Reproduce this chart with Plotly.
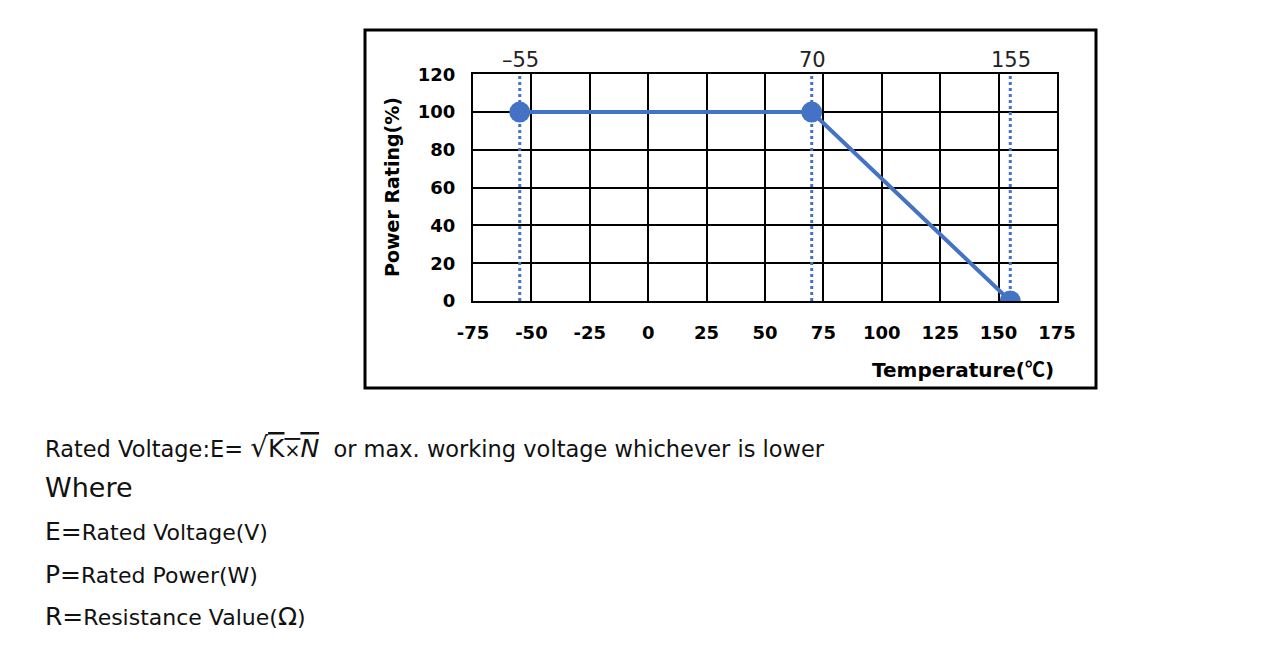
import plotly.graph_objects as go

# derating curve
temps = [-55, 70, 155]
power = [100, 100, 0]
mark_labels = ["\u201355", "70", "155"]

x_range = [-75, 175]
y_range = [0, 120]
x_ticks = [-75, -50, -25, 0, 25, 50, 75, 100, 125, 150, 175]
x_tick_labels = ["-75", "-50", "-25", "0", "25", "50", "75", "100", "125", "150", "175"]
y_ticks = [0, 20, 40, 60, 80, 100, 120]

notes = [
    ("Rated Voltage:E= <span style='font-size:28px'>\u221a</span><span style='text-decoration:overline;font-size:25px'>K<span style='font-size:19px'>\u00d7</span><i>N</i></span>&nbsp; or max. working voltage whichever is lower", 447, 22.5),
    ("Where", 487, 27),
    ("<span style='font-size:25px'>E=</span>Rated Voltage(V)", 531, 22),
    ("<span style='font-size:25px'>P=</span>Rated Power(W)", 574, 22),
    ("<span style='font-size:25px'>R=</span>Resistance Value(<span style='font-size:25px'>\u03a9</span>)", 616, 22),
]

W, H = 1280, 665
OFF = 8  # page body margin
blue = "#4472C4"
font_main = "DejaVu Sans"


def px_x(x):
    return (x - OFF) / W


def px_y(y):
    return 1 - (y - OFF) / H


fig = go.Figure()

# dotted guide lines at each break point
for t in temps:
    fig.add_trace(go.Scatter(x=[t, t], y=y_range, mode="lines",
                             line=dict(color=blue, width=3, dash="dot"),
                             hoverinfo="skip", showlegend=False))

fig.add_trace(go.Scatter(x=temps, y=power, mode="lines+markers",
                         line=dict(color=blue, width=4),
                         marker=dict(color=blue, size=21),
                         showlegend=False))

for t, lab in zip(temps, mark_labels):
    fig.add_annotation(x=t, y=y_range[1], text=lab, showarrow=False,
                       xanchor="center", yanchor="bottom", yshift=0, xshift=1,
                       font=dict(family=font_main, size=21, color="#222"))

fig.add_annotation(x=px_x(392), y=px_y(187), xref="paper", yref="paper",
                   xanchor="center", yanchor="middle",
                   text="<b>Power Rating(%)</b>", textangle=-90, showarrow=False,
                   font=dict(family=font_main, size=19, color="black"))
fig.add_annotation(x=px_x(1056), y=px_y(368), xref="paper", yref="paper",
                   text="<b>Temperature(<span style='font-family:Noto Sans CJK SC'>\u2103</span>)</b>",
                   showarrow=False, xanchor="right", yanchor="middle",
                   font=dict(family=font_main, size=20, color="black"))

for txt, yy, fs in notes:
    fig.add_annotation(x=px_x(43), y=px_y(yy), xref="paper", yref="paper",
                       text=txt, showarrow=False, xanchor="left", yanchor="middle",
                       font=dict(family=font_main, size=fs, color="#111"))

# outer frame
fig.add_shape(type="rect", xref="paper", yref="paper",
              x0=px_x(365), x1=px_x(1096), y0=px_y(388), y1=px_y(30),
              line=dict(color="black", width=3))

fig.update_xaxes(range=x_range, tickvals=x_ticks, ticktext=x_tick_labels,
                 automargin=False, domain=[px_x(473), px_x(1057)],
                 showgrid=True, gridcolor="black", gridwidth=2,
                 showline=True, mirror=True, linecolor="black", linewidth=2,
                 zeroline=False, ticks="", ticklabelstandoff=14,
                 tickfont=dict(family=font_main, size=18, color="black", weight="bold"))
fig.update_yaxes(range=y_range, tickvals=y_ticks, automargin=False,
                 domain=[px_y(301), px_y(74.3)],
                 showgrid=True, gridcolor="black", gridwidth=2,
                 showline=True, mirror=True, linecolor="black", linewidth=2,
                 zeroline=False, ticks="", ticklabelstandoff=12,
                 tickfont=dict(family=font_main, size=18, color="black", weight="bold"))

fig.update_layout(width=W, height=H, margin=dict(l=0, r=0, t=0, b=0, pad=0),
                  plot_bgcolor="white", paper_bgcolor="white")

fig.write_html("out.html")
